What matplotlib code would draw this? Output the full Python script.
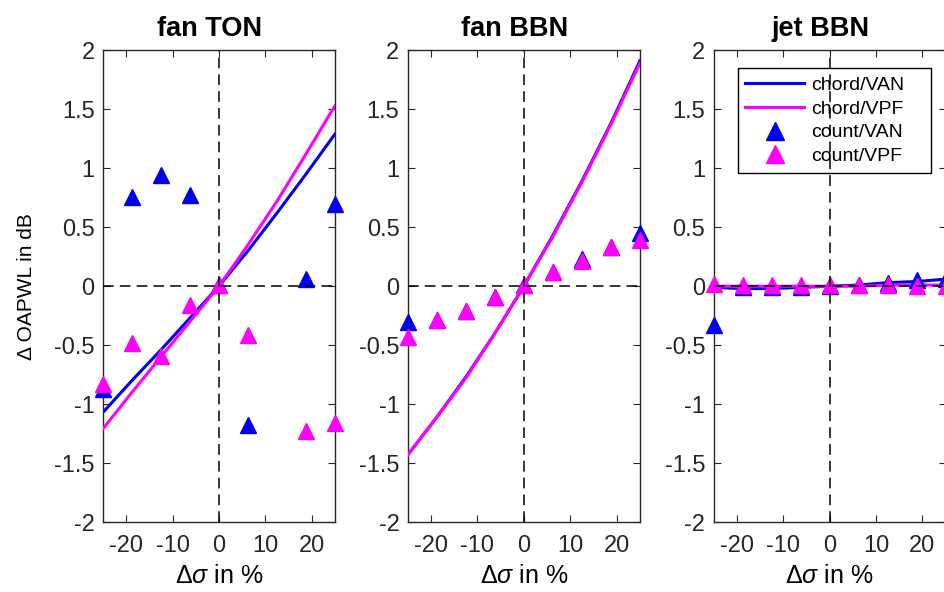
import numpy as np
import matplotlib
matplotlib.use('Agg')
import matplotlib.pyplot as plt
from matplotlib.ticker import FuncFormatter

plt.rcParams['font.family'] = ['Liberation Sans', 'DejaVu Sans']
plt.rcParams['axes.unicode_minus'] = False
plt.rcParams['mathtext.fontset'] = 'custom'
plt.rcParams['mathtext.rm'] = 'Liberation Sans'
plt.rcParams['mathtext.it'] = 'Liberation Sans:italic'

# variation of sigma in %
dsig = [-25, -18.75, -12.5, -6.25, 0, 6.25, 12.5, 18.75, 25]

titles = ['fan TON', 'fan BBN', 'jet BBN']

# chord lines
chord_van = [
    [-1.07, -0.80, -0.54, -0.27, 0.0, 0.30, 0.62, 0.95, 1.29],
    [-1.43, -1.11, -0.77, -0.40, 0.0, 0.43, 0.89, 1.38, 1.91],
    [-0.01, -0.02, -0.02, -0.01, 0.0, 0.01, 0.03, 0.04, 0.06],
]
chord_vpf = [
    [-1.21, -0.90, -0.60, -0.30, 0.0, 0.35, 0.72, 1.12, 1.53],
    [-1.43, -1.11, -0.78, -0.40, 0.0, 0.42, 0.88, 1.37, 1.89],
    [0.0, 0.0, 0.0, 0.0, 0.0, 0.0, 0.01, 0.01, 0.01],
]
# count markers
count_van = [
    [-0.87, 0.76, 0.94, 0.77, 0.01, -1.18, np.nan, 0.06, 0.70],
    [-0.30, -0.29, -0.21, -0.09, 0.01, 0.12, 0.23, 0.33, 0.45],
    [-0.33, -0.01, -0.01, -0.01, 0.0, 0.01, 0.03, 0.05, 0.06],
]
count_vpf = [
    [-0.83, -0.48, -0.59, -0.16, 0.01, -0.41, np.nan, -1.23, -1.16],
    [-0.43, -0.29, -0.21, -0.09, 0.01, 0.12, 0.21, 0.33, 0.39],
    [0.02, 0.01, 0.01, 0.01, 0.01, 0.01, 0.01, 0.0, 0.0],
]

fig = plt.figure(figsize=(9.44, 5.92), dpi=100)
lefts = [0.109, 0.432, 0.756]
axes = []
for i in range(3):
    ax = fig.add_axes([lefts[i], 0.118, 0.2458, 0.797])
    ax.plot(dsig, chord_van[i], color='#0000ee', lw=2.2, label='chord/VAN', zorder=2)
    ax.plot(dsig, chord_vpf[i], color='#ff00ff', lw=2.2, label='chord/VPF', zorder=3)
    ax.plot(dsig, count_van[i], '^', color='#0000ee', ms=11, ls='none',
            label='count/VAN', zorder=4, clip_on=False)
    ax.plot(dsig, count_vpf[i], '^', color='#ff00ff', ms=11, ls='none',
            label='count/VPF', zorder=5, clip_on=False)
    # zero lines
    ax.axhline(0, color='k', lw=1.1, dashes=[7, 4], zorder=6)
    ax.axvline(0, color='k', lw=1.1, dashes=[7, 4], zorder=6)

    ax.set_xlim(-25, 25)
    ax.set_ylim(-2, 2)
    ax.set_xticks([-20, -10, 0, 10, 20])
    ax.set_yticks(np.arange(-2, 2.01, 0.5))
    ax.yaxis.set_major_formatter(FuncFormatter(lambda v, p: '%g' % v))
    ax.tick_params(direction='in', top=True, right=True, length=5,
                   labelsize=17, colors='#262626')
    ax.tick_params(axis='x', pad=9)
    ax.tick_params(axis='y', pad=6)
    for s in ax.spines.values():
        s.set_color('#262626')
        s.set_linewidth(1.0)
    ax.set_title(titles[i], fontsize=19.5, fontweight='bold', pad=10, x=0.46)
    ax.set_xlabel(r'$\Delta\sigma$ in %', fontsize=18, labelpad=5)
    axes.append(ax)

axes[0].set_ylabel('\u0394 OAPWL in dB', fontsize=15, labelpad=13)

leg = axes[2].legend(loc='upper left', bbox_to_anchor=(0.1034, 0.5, 0.832, 0.4619),
                     mode='expand', borderaxespad=0, fontsize=14, handlelength=3.0,
                     fancybox=False, framealpha=1, edgecolor='k', markerscale=1.2,
                     labelspacing=0.32, handletextpad=0.4, borderpad=0.4)
leg.get_frame().set_linewidth(1.0)

fig.savefig('out.png', dpi=100)
